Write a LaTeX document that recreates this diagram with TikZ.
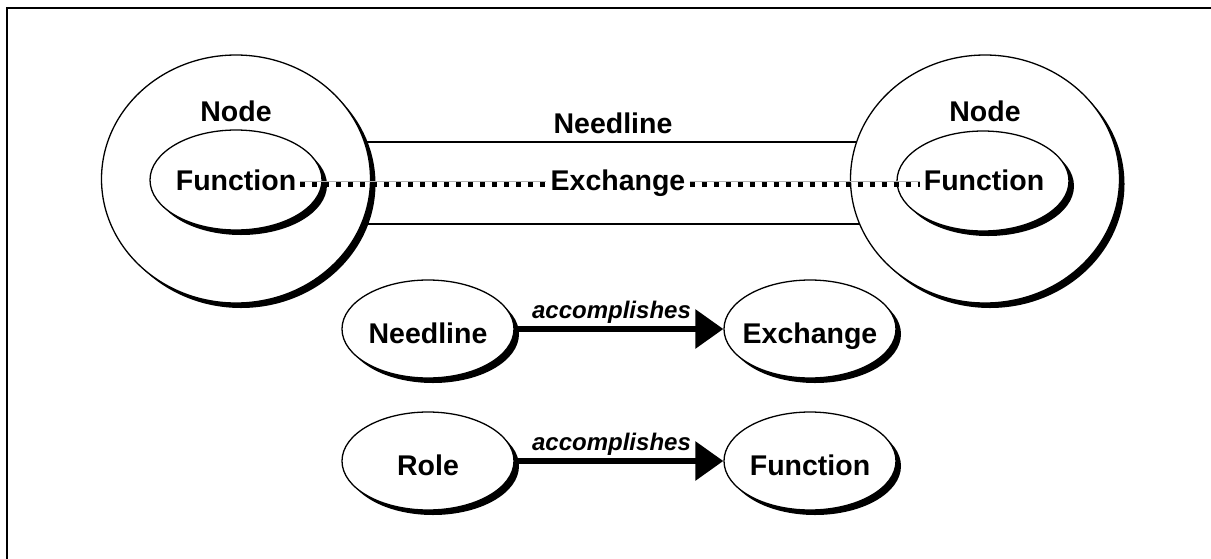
\documentclass[tikz,border=0pt]{standalone}
\usepackage{fontspec}
\setmainfont{Liberation Sans}
\usetikzlibrary{shapes.geometric,shadows,arrows.meta}

\begin{document}
\begin{tikzpicture}[x=1pt,y=-1pt,
  lbl/.style={font=\fontsize{28.5}{30}\selectfont\bfseries,inner sep=4pt,text height=24pt,text depth=6pt},
  blackshadow/.style={drop shadow={opacity=1,fill=black,shadow xshift=5pt,shadow yshift=-5pt}},
  bignode/.style={ellipse,draw,line width=1.3pt,fill=white,blackshadow,minimum width=269pt,minimum height=248pt,inner sep=0pt},
  fnell/.style={ellipse,draw,line width=1.3pt,fill=white,blackshadow,minimum width=172pt,minimum height=100pt,inner sep=0pt},
  termell/.style={ellipse,draw,line width=1.3pt,fill=white,blackshadow,minimum width=172pt,minimum height=98pt,inner xsep=-25pt,inner ysep=0pt,
    font=\fontsize{28.5}{30}\selectfont\bfseries,text height=28pt,text depth=0pt},
  exch/.style={draw=black!30,line width=1pt,
    postaction={draw=black,line width=5.5pt,dash pattern=on 5pt off 7pt,transform canvas={yshift=-3.5pt}}},
  acc/.style={line width=6pt,-{Triangle[length=28pt,width=38pt]}},
  acclbl/.style={font=\fontsize{24}{26}\selectfont\bfseries\itshape,anchor=base,yshift=10.5pt,inner sep=0pt,pos=0.464}]
  \useasboundingbox (0,0) rectangle (1211,558);
  % frame
  \draw[line width=2pt] (7,570) -- (7,7.5) -- (1220,7.5);
  % needline tube
  \node[draw,line width=1.3pt,minimum width=620pt,minimum height=82pt,inner sep=0pt] (tube) at (610,183) {};
  \node[bignode] (lnode) at (236,179) {};
  \node[bignode] (rnode) at (985,179) {};
  \node[fnell] (lfun) at (236,180) {};
  \node[fnell] (rfun) at (983,181) {};
  \node[lbl] (lnodetxt) at (236,112) {Node};
  \node[lbl] (rnodetxt) at (985,112) {Node};
  \node[lbl] (lfuntxt) at (236,181) {Function};
  \node[lbl] (rfuntxt) at (984,181) {Function};
  \node[lbl] (needtxt) at (613,124) {Needline};
  \node[lbl] (exchtxt) at (618,181) {Exchange};
  \draw[exch] (lfuntxt) -- (exchtxt);
  \draw[exch] (exchtxt) -- (rfuntxt);
  % accomplishes
  \node[termell] (needl) at (428,329) {Needline};
  \node[termell] (exchb) at (810,329) {Exchange};
  \node[termell] (role) at (428,461) {Role};
  \node[termell] (func) at (810,461) {Function};
  \draw[acc] (needl) -- node[acclbl] {accomplishes} (exchb);
  \draw[acc] (role) -- node[acclbl] {accomplishes} (func);
\end{tikzpicture}
\end{document}
